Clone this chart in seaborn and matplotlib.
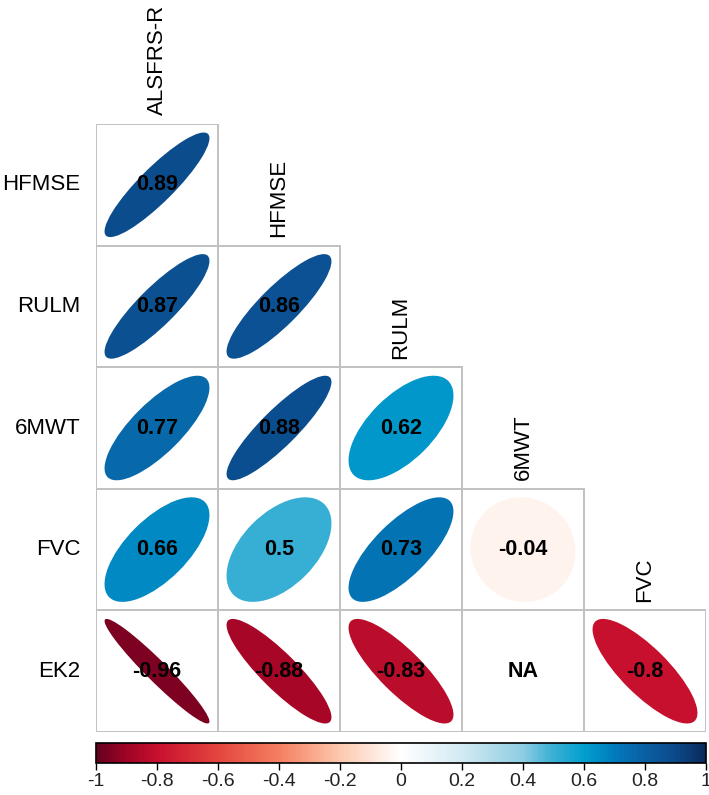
""" Lower-triangle correlation plot with ellipses """

import numpy as np
import matplotlib
matplotlib.use("Agg")
import matplotlib.pyplot as plt
from matplotlib.colors import ListedColormap, LinearSegmentedColormap, Normalize, to_rgba
from matplotlib.patches import Ellipse
from matplotlib.cm import ScalarMappable
import seaborn as sns

# data
col_names = ["ALSFRS-R", "HFMSE", "RULM", "6MWT", "FVC"]
row_names = ["HFMSE", "RULM", "6MWT", "FVC", "EK2"]
row_hfmse = [0.89]
row_rulm = [0.87, 0.86]
row_6mwt = [0.77, 0.88, 0.62]
row_fvc = [0.66, 0.5, 0.73, -0.04]
row_ek2 = [-0.96, -0.88, -0.83, np.nan, -0.8]
cbar_ticks = [-1, -0.8, -0.6, -0.4, -0.2, 0, 0.2, 0.4, 0.6, 0.8, 1]

rows = [row_hfmse, row_rulm, row_6mwt, row_fvc, row_ek2]
n = len(row_names)
corr = np.full((n, n), np.nan)
for i, vals in enumerate(rows):
    corr[i, :len(vals)] = vals

# colour ramp
cmap = LinearSegmentedColormap.from_list("corr", [
    (0.00, "#67001F"), (0.05, "#A00425"), (0.10, "#C8102E"),
    (0.20, "#E4463F"), (0.30, "#F47F60"), (0.40, "#FDC9AE"),
    (0.50, "#FFFFFF"), (0.60, "#D3EAF3"), (0.70, "#8ECDE2"),
    (0.75, "#3AAFD4"), (0.80, "#039FCF"), (0.85, "#007CBC"),
    (0.90, "#0A60A3"), (0.95, "#0B4A8B"), (1.00, "#0B2A5C")])
norm = Normalize(-1, 1)

sns.set_style("white")
plt.rcParams["font.family"] = ["Liberation Sans", "DejaVu Sans"]

fig = plt.figure(figsize=(7.09, 7.95), dpi=100)
ax = fig.add_axes([96 / 709, 1 - 732 / 795, 610 / 709, 608 / 795])

mask = np.triu(np.ones((n, n), dtype=bool), k=1)
annot = np.empty((n, n), dtype=object)
for i in range(n):
    for j in range(n):
        v = corr[i, j]
        annot[i, j] = "NA" if np.isnan(v) else f"{v:g}"

grid_color = "#C2C2C2"
sns.heatmap(np.zeros((n, n)), mask=mask, cmap=ListedColormap(["white"]),
            cbar=False, annot=annot, fmt="", linewidths=1.3,
            linecolor=grid_color, xticklabels=False, yticklabels=row_names,
            annot_kws={"fontsize": 15.5, "fontweight": "bold",
                       "color": "black"}, ax=ax)

# no borders on the hidden upper triangle
mesh = ax.collections[0]
edge = [(0, 0, 0, 0) if m else to_rgba(grid_color) for m in mask.ravel()]
mesh.set_edgecolor(edge)

# ellipses (corrplot style)
s = 0.86
for i in range(n):
    for j in range(i + 1):
        r = corr[i, j]
        if np.isnan(r):
            continue
        ax.add_patch(Ellipse((j + 0.5, i + 0.5), width=s * np.sqrt(1 + r),
                             height=s * np.sqrt(1 - r), angle=-45,
                             facecolor=cmap(norm(r)), edgecolor="none",
                             zorder=1))

# column labels above the diagonal
for j, name in enumerate(col_names):
    ax.text(j + 0.5, j - 0.07, name, rotation=90, ha="center", va="bottom",
            fontsize=16, color="black", clip_on=False)

ax.tick_params(axis="y", length=0, pad=11, labelsize=16, labelcolor="black")
plt.setp(ax.get_yticklabels(), rotation=0)

# colour key
cax = fig.add_axes([96 / 709, 1 - 763 / 795, 610 / 709, 20 / 795])
cb = fig.colorbar(ScalarMappable(norm=norm, cmap=cmap), cax=cax,
                  orientation="horizontal", ticks=cbar_ticks)
cb.ax.set_xticklabels([f"{t:g}" for t in cbar_ticks])
cb.ax.tick_params(labelsize=14, length=5, width=1, color="black",
                  labelcolor="#222222", pad=2)
cb.outline.set_edgecolor("black")
cb.outline.set_linewidth(1.2)

fig.savefig("out.png", dpi=100)
